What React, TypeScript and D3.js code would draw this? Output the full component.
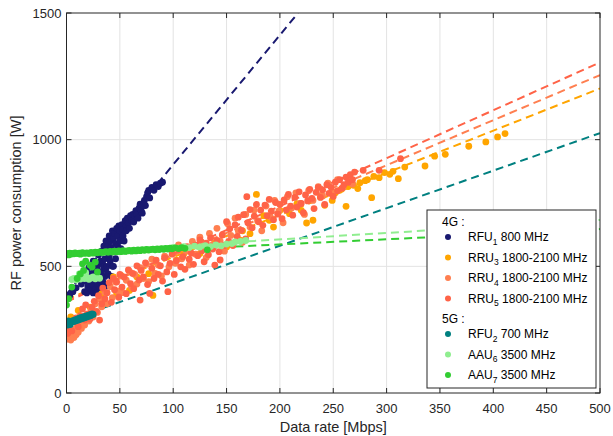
import React, { useEffect, useRef } from 'react';
import * as d3 from 'd3';

type Pt = [number, number];

const xTicks = [0, 50, 100, 150, 200, 250, 300, 350, 400, 450, 500];
const yTicks = [0, 500, 1000, 1500];

// 4G, RFU1 800 MHz
const rfu1: Pt[] = [
  [3, 385], [6, 400], [9, 415], [14, 430], [16, 455], [17, 400], [18, 470], [19, 440], [19, 395],
  [20, 420], [21, 495], [21, 430], [22, 470], [23, 450], [23, 410], [24, 430], [24, 405], [25, 520],
  [25, 395], [26, 480], [26, 455], [27, 410], [27, 470], [28, 395], [28, 440], [29, 500], [29, 470],
  [29, 430], [30, 425], [30, 545], [31, 410], [31, 470], [32, 455], [32, 520], [33, 560], [33, 480],
  [33, 420], [34, 440], [34, 510], [35, 500], [35, 580], [36, 530], [36, 460], [36, 420], [37, 600],
  [37, 490], [38, 555], [38, 500], [39, 580], [39, 470], [40, 620], [40, 540], [41, 600], [41, 520],
  [42, 575], [42, 460], [43, 500], [43, 640], [44, 610], [44, 500], [45, 630], [45, 560], [46, 590],
  [46, 530], [47, 650], [48, 620], [48, 580], [49, 660], [50, 640], [50, 600], [51, 570], [52, 665],
  [53, 645], [53, 620], [54, 600], [55, 680], [56, 660], [56, 640], [57, 690], [58, 670], [59, 650],
  [60, 700], [61, 680], [62, 705], [63, 675], [64, 700], [65, 720], [66, 705], [67, 690], [68, 730],
  [69, 745], [70, 720], [71, 710], [72, 740], [73, 760], [74, 740], [75, 775], [76, 790], [77, 800],
  [78, 770], [80, 812], [82, 800], [84, 822], [86, 815], [88, 828], [90, 832],
];

// 4G, RRU3 1800-2100 MHz
const rru3: Pt[] = [
  [4, 300], [11, 326], [22, 339], [33, 392], [44, 458], [47, 392], [51, 464], [59, 405], [66, 458],
  [77, 471], [81, 385], [103, 524], [110, 550], [125, 550], [128, 576], [143, 596], [150, 576],
  [163, 603], [165, 640], [172, 629], [178, 784], [185, 700], [190, 682], [194, 655], [200, 720],
  [209, 708], [216, 747], [220, 721], [225, 671], [231, 682], [238, 774], [242, 741], [249, 760],
  [252, 790], [256, 800], [258, 805], [262, 737], [264, 815], [269, 820], [273, 807], [275, 830],
  [280, 838], [282, 842], [286, 771], [288, 855], [293, 850], [298, 870], [303, 863], [306, 875],
  [311, 846], [317, 892], [336, 896], [345, 935], [355, 942], [377, 974], [393, 991], [404, 1011],
  [411, 1024],
];

// 4G, RRU4 1800-2100 MHz
const rru4: Pt[] = [
  [0, 212], [1, 228], [2, 215], [3, 240], [4, 209], [5, 231], [6, 246], [7, 219], [8, 252], [9, 230],
  [10, 262], [11, 240], [13, 276], [14, 255], [16, 298], [17, 268], [19, 310], [21, 284], [23, 332],
  [25, 300], [27, 352], [29, 318], [31, 372], [33, 340], [36, 398], [38, 352], [41, 420], [43, 376],
  [46, 438], [48, 402], [51, 462], [53, 396], [56, 445], [59, 480], [61, 418], [64, 468], [66, 430],
  [69, 495], [72, 452], [75, 508], [77, 440], [80, 528], [83, 472], [86, 505], [89, 462], [92, 540],
  [96, 498], [99, 560], [102, 512], [105, 585], [108, 530], [112, 560], [115, 505], [118, 598],
  [121, 548], [125, 615], [128, 570], [131, 535], [134, 630], [137, 585], [141, 650], [144, 600],
  [148, 560], [151, 668], [154, 622], [158, 690], [161, 640], [165, 595], [168, 705], [172, 655],
  [176, 722], [179, 680], [183, 640], [187, 738], [191, 695], [195, 760], [199, 718], [203, 672],
  [207, 775], [211, 730], [215, 790], [219, 748], [223, 705], [227, 800], [231, 760], [236, 815],
  [240, 778], [245, 828], [249, 795], [254, 842], [259, 810], [264, 852], [268, 825],
];

// 4G, RRU5 1800-2100 MHz
const rru5: Pt[] = [
  [1, 235], [3, 258], [5, 245], [7, 282], [9, 296], [11, 262], [13, 305], [15, 332], [17, 288],
  [18, 348], [20, 312], [22, 292], [24, 338], [26, 362], [28, 322], [30, 384], [31, 288], [33, 352],
  [34, 414], [36, 372], [38, 396], [40, 436], [42, 358], [44, 452], [45, 408], [47, 438], [49, 378],
  [50, 468], [52, 418], [54, 458], [56, 392], [58, 486], [60, 432], [62, 472], [63, 412], [66, 502],
  [68, 446], [69, 367], [70, 484], [72, 458], [74, 514], [76, 428], [78, 393], [80, 492], [82, 452],
  [84, 524], [86, 468], [88, 502], [90, 442], [92, 534], [94, 478], [95, 400], [97, 512], [99, 548],
  [101, 468], [103, 522], [105, 566], [107, 498], [109, 538], [111, 488], [113, 578], [115, 528],
  [117, 552], [119, 508], [121, 584], [123, 542], [125, 604], [127, 562], [129, 518], [131, 592],
  [133, 546], [135, 612], [137, 568], [139, 505], [141, 602], [143, 558], [144, 525], [146, 624],
  [148, 582], [150, 676], [152, 598], [153, 648], [156, 582], [158, 664], [160, 618], [161, 694],
  [164, 642], [166, 704], [168, 608], [169, 775], [170, 672], [172, 724], [174, 652], [176, 698],
  [178, 744], [180, 676], [182, 722], [184, 662], [186, 742], [188, 700], [190, 764], [192, 718],
  [194, 684], [196, 752], [198, 706], [200, 744], [202, 688], [204, 762], [206, 722], [208, 784],
  [210, 738], [212, 702], [214, 772], [216, 734], [218, 794], [220, 748], [222, 712], [224, 782],
  [226, 758], [228, 804], [230, 768], [232, 728], [234, 792], [236, 812], [238, 772], [240, 802],
  [242, 744], [244, 822], [246, 788], [248, 812], [250, 776], [252, 832], [254, 798], [256, 842],
  [258, 808], [260, 822], [262, 852], [264, 832], [266, 862], [268, 842], [270, 872], [278, 879],
  [293, 879], [313, 925],
];

// 5G, RFU2 700 MHz
const rfu2: Pt[] = [
  [0, 272], [0.5, 280], [1, 268], [1.5, 285], [2, 275], [3, 278], [3.5, 270], [4, 283], [5, 280],
  [6, 286], [7, 282], [8, 289], [9, 285], [10, 292], [11, 288], [12, 295], [13, 291], [14, 298],
  [15, 294], [16, 300], [17, 297], [18, 303], [19, 300], [20, 306], [21, 303], [22, 309], [23, 306],
  [24, 312], [25, 310],
];

// 5G, AAU6 3500 MHz
const aau6: Pt[] = [
  [5, 448], [7, 452], [9, 446], [11, 455], [12, 470], [13, 450], [15, 458], [17, 452], [18, 475],
  [19, 456], [21, 449], [23, 454], [25, 458], [27, 451], [29, 456], [31, 453], [35, 555], [45, 558],
  [55, 560], [65, 562], [75, 565], [85, 567], [95, 570], [100, 575], [105, 572], [110, 578],
  [115, 574], [120, 580], [125, 576], [130, 582], [135, 578], [140, 585], [145, 581], [150, 588],
  [155, 590], [158, 596], [163, 598], [168, 602],
];

// 5G, AAU7 3500 MHz
const aau7: Pt[] = [
  [0, 347], [2, 372], [5, 418], [10, 452], [13, 470], [15, 510], [16, 484], [18, 520], [22, 505],
  [24, 497], [27, 517], [29, 478],
  [0, 547], [1, 550], [2, 545], [3, 552], [4, 548], [5, 551], [7, 549], [8, 553], [10, 550],
  [12, 552], [13, 548], [15, 554], [17, 551], [19, 553], [21, 550], [23, 555], [25, 552], [27, 556],
  [29, 553], [31, 557], [33, 554], [35, 556], [37, 558], [39, 555], [41, 559], [43, 556], [45, 560],
  [47, 557], [49, 561], [51, 558], [53, 562], [55, 559], [57, 561], [59, 563], [61, 560], [63, 564],
  [65, 561], [67, 565], [69, 562], [71, 566], [73, 563], [75, 567], [77, 564], [79, 566], [81, 568],
  [83, 565], [85, 569], [87, 566], [89, 570], [91, 567], [93, 571], [95, 568], [97, 572], [99, 569],
  [102, 573], [105, 570], [108, 574], [111, 571], [132, 565],
];

// fitted trend lines, two end points each
const rfu1Fit: Pt[] = [[0, 390], [217, 1500]];
const rru3Fit: Pt[] = [[0, 370], [500, 1202]];
const rru4Fit: Pt[] = [[0, 365], [500, 1255]];
const rru5Fit: Pt[] = [[0, 360], [500, 1305]];
const rfu2Fit: Pt[] = [[0, 285], [500, 1026]];
const aau6Fit: Pt[] = [[0, 555], [500, 683]];
const aau7Fit: Pt[] = [[0, 546], [500, 647]];

const series = [
  { name: 'RFU', sub: '1', band: '800 MHz', color: '#191970', pts: rfu1, fit: rfu1Fit },
  { name: 'RRU', sub: '3', band: '1800-2100 MHz', color: '#FFA500', pts: rru3, fit: rru3Fit },
  { name: 'RRU', sub: '4', band: '1800-2100 MHz', color: '#FF7F50', pts: rru4, fit: rru4Fit },
  { name: 'RRU', sub: '5', band: '1800-2100 MHz', color: '#FF6347', pts: rru5, fit: rru5Fit },
  { name: 'RFU', sub: '2', band: '700 MHz', color: '#008080', pts: rfu2, fit: rfu2Fit },
  { name: 'AAU', sub: '6', band: '3500 MHz', color: '#90EE90', pts: aau6, fit: aau6Fit },
  { name: 'AAU', sub: '7', band: '3500 MHz', color: '#32CD32', pts: aau7, fit: aau7Fit },
];

const FONT = '"Liberation Sans", Arial, Helvetica, sans-serif';
const INK = '#262626';

export default function App() {
  const ref = useRef<SVGSVGElement>(null);

  useEffect(() => {
    const svg = d3.select(ref.current);
    svg.selectAll('*').remove();

    const left = 66.5, right = 600, top = 13, bottom = 393;
    const x = d3.scaleLinear().domain([0, 500]).range([left, right]);
    const y = d3.scaleLinear().domain([0, 1500]).range([bottom, top]);

    svg.append('defs').append('clipPath').attr('id', 'plot')
      .append('rect').attr('x', left).attr('y', top)
      .attr('width', right - left).attr('height', bottom - top);

    // grid
    const grid = svg.append('g').attr('stroke', '#e3e3e3').attr('stroke-width', 1);
    xTicks.slice(1, -1).forEach(t => {
      grid.append('line').attr('x1', x(t)).attr('x2', x(t)).attr('y1', top).attr('y2', bottom);
    });
    yTicks.slice(1, -1).forEach(t => {
      grid.append('line').attr('x1', left).attr('x2', right).attr('y1', y(t)).attr('y2', y(t));
    });

    const plot = svg.append('g').attr('clip-path', 'url(#plot)');

    // fitted dashed lines
    const line = d3.line<Pt>().x(d => x(d[0])).y(d => y(d[1]));
    series.forEach(s => {
      plot.append('path').attr('d', line(s.fit))
        .attr('fill', 'none').attr('stroke', s.color)
        .attr('stroke-width', 2).attr('stroke-dasharray', '8,5');
    });

    // measured points
    series.forEach(s => {
      plot.append('g').selectAll('circle').data(s.pts).enter().append('circle')
        .attr('cx', d => x(d[0])).attr('cy', d => y(d[1])).attr('r', 3.4)
        .attr('fill', s.color);
    });

    // box and ticks
    const axis = svg.append('g').attr('stroke', INK).attr('stroke-width', 1).attr('fill', 'none');
    axis.append('rect').attr('x', left).attr('y', top).attr('width', right - left).attr('height', bottom - top);
    xTicks.forEach(t => {
      axis.append('line').attr('x1', x(t)).attr('x2', x(t)).attr('y1', bottom).attr('y2', bottom - 5);
      axis.append('line').attr('x1', x(t)).attr('x2', x(t)).attr('y1', top).attr('y2', top + 5);
    });
    yTicks.forEach(t => {
      axis.append('line').attr('x1', left).attr('x2', left + 5).attr('y1', y(t)).attr('y2', y(t));
      axis.append('line').attr('x1', right).attr('x2', right - 5).attr('y1', y(t)).attr('y2', y(t));
    });

    const labels = svg.append('g').attr('font-family', FONT).attr('fill', INK);
    xTicks.forEach(t => {
      labels.append('text').attr('x', x(t)).attr('y', 413).attr('text-anchor', 'middle')
        .attr('font-size', 13).text(t);
    });
    yTicks.forEach(t => {
      labels.append('text').attr('x', left - 5).attr('y', y(t)).attr('dy', '0.35em')
        .attr('text-anchor', 'end').attr('font-size', 13).text(t);
    });
    labels.append('text').attr('x', (left + right) / 2).attr('y', 432)
      .attr('text-anchor', 'middle').attr('font-size', 14.5).text('Data rate [Mbps]');
    labels.append('text').attr('transform', `translate(21, ${(top + bottom) / 2}) rotate(-90)`)
      .attr('text-anchor', 'middle').attr('font-size', 14.5).text('RF power consumption [W]');

    // legend
    const lg = svg.append('g').attr('font-family', FONT).attr('font-size', 12).attr('fill', '#000');
    lg.append('rect').attr('x', 427).attr('y', 210).attr('width', 169).attr('height', 178)
      .attr('fill', '#fff').attr('stroke', INK).attr('stroke-width', 1);
    const rows = [
      { head: '4G :', yy: 222 },
      { s: 0, yy: 237 }, { s: 1, yy: 257.5 }, { s: 2, yy: 278 }, { s: 3, yy: 298.5 },
      { head: '5G :', yy: 318.5 },
      { s: 4, yy: 334 }, { s: 5, yy: 354.5 }, { s: 6, yy: 375 },
    ];
    rows.forEach(r => {
      if (r.head) {
        lg.append('text').attr('x', 442).attr('y', r.yy).attr('dy', '0.35em').text(r.head);
        return;
      }
      const s = series[r.s as number];
      lg.append('circle').attr('cx', 448).attr('cy', r.yy).attr('r', 3).attr('fill', s.color);
      const t = lg.append('text').attr('x', 468).attr('y', r.yy).attr('dy', '0.35em');
      t.append('tspan').text(s.name);
      t.append('tspan').attr('font-size', 8.5).attr('dy', 3.5).text(s.sub);
      t.append('tspan').attr('dy', -3.5).text(' ' + s.band);
    });
  }, []);

  return (
    <svg ref={ref} width={613} height={436}
      style={{ position: 'absolute', left: 0, top: 0, background: '#fff' }} />
  );
}
